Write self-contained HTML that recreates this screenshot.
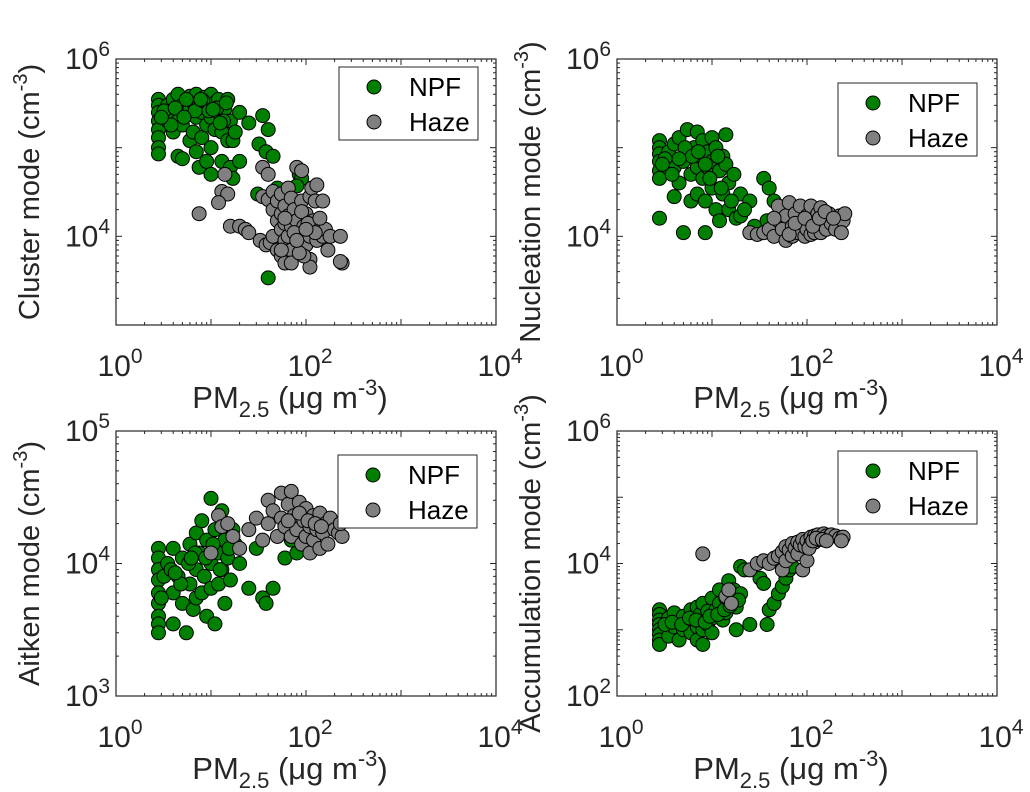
<!DOCTYPE html>
<html><head><meta charset="utf-8"><style>
body{margin:0;background:#fff;}
svg{display:block;font-family:"Liberation Sans",sans-serif;}
</style></head><body>
<svg id="chart" width="1030" height="792" viewBox="0 0 1030 792"></svg>
<script>
// ---- data ----
const clusterNpfX=[2.8,2.8,2.8,2.8,2.8,2.8,2.8,2.8,3.5,3.5,4,4,4,4.5,4.5,4.5,5,5,5,5.5,6,6,6,6.5,6.5,7,7,7,7.5,7.5,8,8,8.5,9,9,9,10,10,10,10,11,11,12,12,13,13,14,15,15,16,16,17,17,18,20,20,25,32,35,38,40,45,31,50,40,85,90,80,3.2,3.8,5.5,6.8,8.2,9.5,11.5,13.5,14.5,3,4.2,5.2,7.8,10.5,12.5];
const clusterNpfY=[3.5e5,3e5,2.5e5,2e5,1.6e5,1.3e5,1e5,8.5e4,3e5,2e5,3.5e5,2.5e5,1.5e5,4e5,2e5,8e4,3e5,1.8e5,7.5e4,2.5e5,3.8e5,2.8e5,1.2e5,3.2e5,1.5e5,4e5,2.2e5,9e4,3e5,6e4,2.5e5,1.3e5,3.7e5,3e5,1.8e5,7e4,4e5,2.2e5,1e5,5e4,3.2e5,1.6e5,3.5e5,2.5e5,1.5e5,7e4,2.7e5,3.5e5,1.2e5,2e5,6e4,1.2e5,4.5e4,1.5e5,2.5e5,7e4,1.9e5,1.1e5,2.3e5,9e4,1.6e5,8e4,3e4,3.5e4,3.4e3,5e4,4.5e4,3.7e4,2.6e5,1.8e5,3.5e5,2.6e5,3.4e5,2.6e5,2.8e5,2e5,3.2e5,2.2e5,2.8e5,2.2e5,3.5e5,2.7e5,1.9e5];
const clusterHazeX=[7.5,14,13,15,12,16,20,23,25,35,40,33,38,42,45,50,55,60,35,40,45,45,50,50,55,55,55,60,60,60,65,65,65,70,70,70,75,80,80,85,90,90,95,100,100,110,110,110,115,120,125,130,130,140,150,150,160,170,180,230,240,230,110,95,55,70,85,75,90,105,125,140,60,80,100];
const clusterHazeY=[1.8e4,5e4,3.2e4,3e4,2.4e4,1.3e4,1.3e4,1.2e4,1.1e4,6e4,5e4,9e3,8e3,8.5e3,1e4,7e3,6e3,5e3,2.8e4,2.6e4,3.2e4,2e4,2.5e4,1.5e4,3e4,1.8e4,1.2e4,2.2e4,1.4e4,9e3,3.5e4,1.7e4,1e4,2.7e4,1.3e4,7e3,2e4,6e4,1.5e4,1.1e4,2.5e4,5.5e4,1.3e4,8e3,1.8e4,2.8e4,1e4,5.5e3,3.5e4,1.5e4,2.5e4,3.8e4,9e3,1.2e4,2.5e4,1e4,1.2e4,7e3,1e4,1e4,5e3,5.2e3,4.5e3,6e3,7e3,5e3,6.5e3,1.1e4,1.9e4,1.4e4,1.1e4,1.6e4,1.6e4,9e3,1.2e4];
const nuclNpfX=[2.8,2.8,2.8,2.8,2.8,2.8,2.8,3.5,4,4,4,4.5,4.5,5,5,5.5,5.5,6,6,6.5,7,7,7,7.5,8,8,8.5,8.5,9,9,10,10,10,11,11,12,12,13,13,14,14,15,15,17,18,20,20,25,28,35,40,45,38,55,60,3.2,3.8,5.2,6.2,7.2,9.5,11.5,12.5,16,22,3,4.5,8.5];
const nuclNpfY=[1.2e5,1e5,8.5e4,7e4,5.5e4,4.5e4,1.6e4,9e4,1.1e5,6e4,2.8e4,1.3e5,4e4,7e4,1.1e4,1.6e5,9e4,5e4,2.5e4,1e5,1.5e5,6e4,3e4,8e4,1.2e5,4.5e4,1.1e4,2.5e4,9e4,6e4,1.3e5,7e4,3.5e4,1e5,2e4,5.5e4,1.5e4,8e4,3e4,1.4e5,6.5e4,4e4,2e4,5e4,1.6e4,3e4,1.7e4,2.5e4,1.3e4,4.5e4,3.5e4,2.5e4,1.5e4,2e4,1.4e4,7.5e4,5e4,1e5,8e4,9e4,4.5e4,8e4,3.5e4,2.5e4,2e4,6.5e4,7.5e4,6.5e4];
const nuclHazeX=[25,30,35,40,45,50,50,55,60,60,65,70,70,75,80,85,90,95,100,100,110,110,120,120,130,130,140,140,150,160,170,180,200,220,240,250,230,45,65,75,95,115,135,155,190];
const nuclHazeY=[1.1e4,1.05e4,1.1e4,1.2e4,1e4,1.5e4,2.2e4,1.2e4,9e3,1.7e4,2.4e4,1.3e4,1e4,1.8e4,1.1e4,2.2e4,1.4e4,1e4,1.7e4,1.2e4,2.2e4,1.05e4,1.5e4,1.1e4,1.8e4,1.3e4,2.1e4,1.1e4,1.5e4,1.2e4,1.8e4,1.4e4,1.2e4,1.7e4,1.5e4,1.8e4,1.1e4,1.6e4,1.05e4,1.4e4,1.6e4,1.3e4,1.6e4,1.9e4,1.6e4];
const aitNpfX=[2.8,2.8,2.8,2.8,2.8,2.8,2.8,2.8,2.8,3.5,4,4,4,4.5,5,5,5.5,6,6,6.5,7,7,7,7.5,8,8,8.5,9,9,10,10,10,11,11,12,12,13,13,14,14,15,16,17,18,20,25,30,35,38,45,60,70,80,3.2,3.8,4.8,5.8,6.8,8.8,10.5,12.5,15.5,3,4.2,6.2];
const aitNpfY=[1.3e4,1.1e4,9e3,7.5e3,6e3,5e3,4e3,3.5e3,3e3,1e4,1.3e4,6e3,3.5e3,8e3,1.1e4,5e3,3e3,1.4e4,7e3,4.5e3,1.7e4,9e3,5.5e3,1.2e4,6e3,2.1e4,8e3,1.5e4,4e3,3.1e4,1e4,6.5e3,1.8e4,3.5e3,1.2e4,7e3,2.5e4,9e3,1.5e4,5e3,1.1e4,7.5e3,1.8e4,1.4e4,1e4,6.5e3,1.3e4,5.5e3,5e3,6.5e3,1.1e4,1.5e4,1.2e4,8e3,9e3,7e3,1e4,1.2e4,1.1e4,1.4e4,9e3,1.3e4,5.5e3,8.5e3,1.1e4];
const aitHazeX=[10,12,13,15,17,20,25,30,35,40,40,45,50,55,55,60,65,70,70,75,80,85,90,95,100,100,110,110,120,120,130,140,140,150,160,170,180,200,220,240,230,65,85,105,125,145];
const aitHazeY=[1.2e4,2.3e4,1.9e4,2e4,1.6e4,1.3e4,1.8e4,2.2e4,1.5e4,3e4,2e4,2.5e4,1.6e4,3.4e4,2.2e4,1.9e4,2.8e4,3.5e4,1.6e4,2.3e4,1.8e4,2.9e4,1.4e4,2.1e4,2.6e4,1.6e4,1.9e4,1.2e4,2.3e4,1.5e4,1.8e4,2.4e4,1.3e4,1.7e4,2e4,1.4e4,2.2e4,1.8e4,1.7e4,1.6e4,2e4,2.1e4,2.4e4,2.1e4,2e4,1.9e4];
const accNpfX=[2.8,2.8,2.8,2.8,2.8,2.8,2.8,2.8,3.5,3.5,4,4,4.5,5,5,5.5,6,6,6.5,7,7,7,7.5,8,8,8,9,9,10,10,10,11,12,12,13,14,14,15,16,17,18,18,20,20,22,25,32,35,38,40,45,50,55,60,65,70,3.2,3.8,4.8,5.8,6.8,8.5,9.5,11.5,13.5,15.5,19];
const accNpfY=[2e3,1.7e3,1.4e3,1.2e3,1e3,850,700,600,1.5e3,800,1.8e3,1.1e3,700,1.6e3,1e3,1.3e3,2e3,900,1.5e3,2.2e3,1.1e3,700,1.7e3,2.5e3,1e3,600,1.9e3,1.2e3,3e3,1.5e3,900,2e3,4e3,2.5e3,1.4e3,3e3,1.8e3,5.5e3,2.8e3,4e3,2.2e3,1e3,3.5e3,9e3,8e3,1.2e3,6e3,5e3,1.2e3,2e3,2.5e3,3.5e3,4.5e3,6e3,8e3,9e3,1.2e3,1.3e3,1.2e3,1.5e3,1.4e3,1.3e3,1.6e3,1.7e3,2e3,2.3e3,2.8e3];
const accHazeX=[8,14,15,16,25,30,35,40,45,50,55,55,60,60,65,70,70,75,80,80,85,90,90,95,100,100,110,110,120,120,130,130,140,150,160,170,180,200,220,240,230,105,115,125,145,160];
const accHazeY=[1.4e4,3.2e3,4e3,2.5e3,8e3,1e4,1.1e4,1e4,1.2e4,1.3e4,1.5e4,8e3,1.8e4,1.1e4,1.6e4,2e4,1.3e4,1.7e4,2.1e4,1.4e4,1.9e4,2.3e4,8e3,1.8e4,2.2e4,1.1e4,2.5e4,2e4,2.6e4,2.1e4,2.7e4,2.3e4,2.4e4,2.8e4,2.6e4,2.5e4,2.7e4,2.6e4,2.4e4,2.5e4,2.2e4,1.7e4,2.2e4,2.4e4,2.3e4,2.2e4];
const yLabels=["Cluster mode","Nucleation mode","Aitken mode","Accumulation mode"];
const xTickLabels=["0","2","4"];

const NS="http://www.w3.org/2000/svg";
const svg=document.getElementById('chart');
function el(tag,attrs,parent){const e=document.createElementNS(NS,tag);for(const k in attrs)e.setAttribute(k,attrs[k]);(parent||svg).appendChild(e);return e;}

const panels=[
 {name:'cluster',L:116,T:59,B:325,ymin:3,ymax:6,yt:[4,6],gx:clusterNpfX,gy:clusterNpfY,hx:clusterHazeX,hy:clusterHazeY,leg:[339,67],lab:yLabels[0]},
 {name:'nucleation',L:617,T:59,B:325,ymin:3,ymax:6,yt:[4,6],gx:nuclNpfX,gy:nuclNpfY,hx:nuclHazeX,hy:nuclHazeY,leg:[838,83],lab:yLabels[1]},
 {name:'aitken',L:116,T:431,B:696,ymin:3,ymax:5,yt:[3,4,5],gx:aitNpfX,gy:aitNpfY,hx:aitHazeX,hy:aitHazeY,leg:[338,455],lab:yLabels[2]},
 {name:'accumulation',L:617,T:431,B:696,ymin:2,ymax:6,yt:[2,4,6],gx:accNpfX,gy:accNpfY,hx:accHazeX,hy:accHazeY,leg:[838,451],lab:yLabels[3]}
];
panels.forEach(p=>{
 const W=380,H=p.B-p.T,R=p.L+W;
 const g=el('g',{});
 
 
 const xs=v=>p.L+Math.log10(v)/4*W;
 const ys=v=>p.B-(Math.log10(v)-p.ymin)/(p.ymax-p.ymin)*H;
 const tk=el('g',{stroke:'#262626','stroke-width':1},g);
 
 
 for(let d=0;d<4;d++)for(let m=1;m<10;m++){const x=xs(Math.pow(10,d)*m);const len=m==1?6:3;
  el('line',{x1:x,x2:x,y1:p.B,y2:p.B-len},tk);el('line',{x1:x,x2:x,y1:p.T,y2:p.T+len},tk);}
 for(let d=p.ymin;d<p.ymax;d++)for(let m=1;m<10;m++){const y=ys(Math.pow(10,d)*m);const len=m==1?6:3;
  el('line',{x1:p.L,x2:p.L+len,y1:y,y2:y},tk);el('line',{x1:R,x2:R-len,y1:y,y2:y},tk);}
 const pts=el('g',{stroke:'#000','stroke-width':1},g);
 
 
 p.gx.forEach((v,i)=>{const c=el('circle',{cx:xs(v),cy:ys(p.gy[i]),r:7,fill:'#008000'},pts);
  
  });
 p.hx.forEach((v,i)=>{const c=el('circle',{cx:xs(v),cy:ys(p.hy[i]),r:7,fill:'#808080'},pts);
  
  });
 const box=el('rect',{x:p.L,y:p.T,width:W,height:H,fill:'none',stroke:'#262626','stroke-width':1.2},g);
 
 
 xTickLabels.forEach((e,i)=>{const t=el('text',{x:p.L+i*W/2+4,y:p.B+51,'font-size':30,fill:'#262626','text-anchor':'middle'},g);
  
  
  t.innerHTML='10<tspan font-size="21" dy="-13">'+e+'</tspan>';});
 p.yt.forEach(d=>{const t=el('text',{x:p.L-6,y:ys(Math.pow(10,d))+10,'font-size':30,fill:'#262626','text-anchor':'end'},g);
  
  
  t.innerHTML='10<tspan font-size="21" dy="-13">'+d+'</tspan>';});
 const xl=el('text',{x:p.L+174,y:p.B+83,'font-size':31,fill:'#262626','text-anchor':'middle'},g);
 
 
 xl.innerHTML='PM<tspan font-size="22" dy="9">2.5</tspan><tspan dy="-9"> (μg m</tspan><tspan font-size="22" dy="-13">-3</tspan><tspan dy="13">)</tspan>';
 const cy=(p.T+p.B)/2;
 const yl=el('text',{x:0,y:0,'font-size':29,fill:'#262626','text-anchor':'middle',transform:'translate('+(p.L-77)+','+cy+') rotate(-90)'},g);
 
 
 yl.innerHTML=p.lab+' (cm<tspan font-size="20" dy="-12">-3</tspan><tspan dy="12">)</tspan>';
 const lg=el('g',{},g);
 
 
 const [lx,ly]=p.leg;
 el('rect',{x:lx,y:ly,width:139,height:73,fill:'#fff',stroke:'#262626','stroke-width':1},lg);
 [['NPF','#008000',20],['Haze','#808080',55]].forEach(([n,c,dy])=>{
  el('circle',{cx:lx+35,cy:ly+dy,r:7,fill:c,stroke:'#000'},lg);
  const t=el('text',{x:lx+70,y:ly+dy+9,'font-size':26,fill:'#000'},lg);
  
  
  t.textContent=n;});
});
</script>
</body></html>
